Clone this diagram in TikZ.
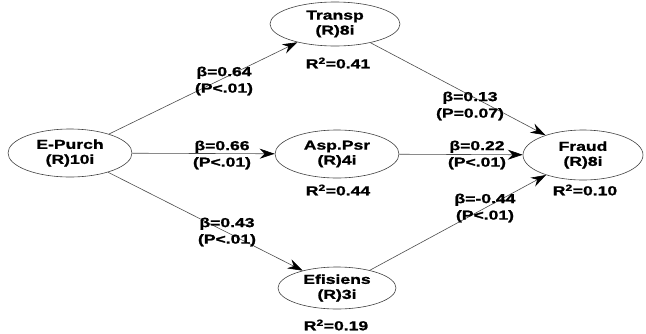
\documentclass[tikz,border=0pt]{standalone}
\usepackage{fontspec}
\setmainfont{Liberation Sans}[FakeStretch=1.35,BoldFeatures={FakeBold=1.2}]
\usetikzlibrary{shapes.geometric,arrows.meta}
\begin{document}
\begin{tikzpicture}[x=1pt,y=-1pt,
    every node/.style={font=\fontsize{13}{15}\selectfont\bfseries},
    lv/.style={draw=black!75,line width=0.6pt,ellipse,inner sep=0pt,align=center},
    coef/.style={align=center,inner sep=0pt,font=\fontsize{13}{16.5}\selectfont\bfseries},
    ruta/.style={draw=black!70,line width=0.6pt,-{Stealth[length=15pt,width=10pt,inset=5pt,black]}}]

    \useasboundingbox (0,0) rectangle (646,333);

    %Variables latentes
    \node[lv,minimum width=124,minimum height=48] (epurch) at (70,153) {E-Purch\\(R)10i};
    \node[lv,minimum width=130,minimum height=44] (transp) at (335,24) {Transp\\(R)8i};
    \node[lv,minimum width=124,minimum height=48] (asp) at (337,154) {Asp.Psr\\(R)4i};
    \node[lv,minimum width=118,minimum height=42] (efis) at (337,288) {Efisiens\\(R)3i};
    \node[lv,minimum width=120,minimum height=50] (fraud) at (583,155) {Fraud\\(R)8i};

    %R cuadrado
    \node (r2transp) at (338,63) {R\textsuperscript{2}=0.41};
    \node (r2asp) at (338,190) {R\textsuperscript{2}=0.44};
    \node (r2efis) at (336,325) {R\textsuperscript{2}=0.19};
    \node (r2fraud) at (585,190) {R\textsuperscript{2}=0.10};

    %Rutas
    \draw[ruta] (epurch) -- (transp);
    \draw[ruta] (epurch) -- (asp);
    \draw[ruta] (epurch) -- (efis);
    \draw[ruta] (transp) -- (fraud);
    \draw[ruta] (asp) -- (fraud);
    \draw[ruta] (efis) -- (fraud);

    %Coeficientes
    \node[coef] (b1) at (224,81) {β=0.64\\(P<.01)};
    \node[coef] (b2) at (222,155) {β=0.66\\(P<.01)};
    \node[coef] (b3) at (227,232) {β=0.43\\(P<.01)};
    \node[coef] (b4) at (470,106) {β=0.13\\(P=0.07)};
    \node[coef] (b5) at (477,155) {β=0.22\\(P<.01)};
    \node[coef] (b6) at (485,208) {β=-0.44\\(P<.01)};
\end{tikzpicture}
\end{document}
